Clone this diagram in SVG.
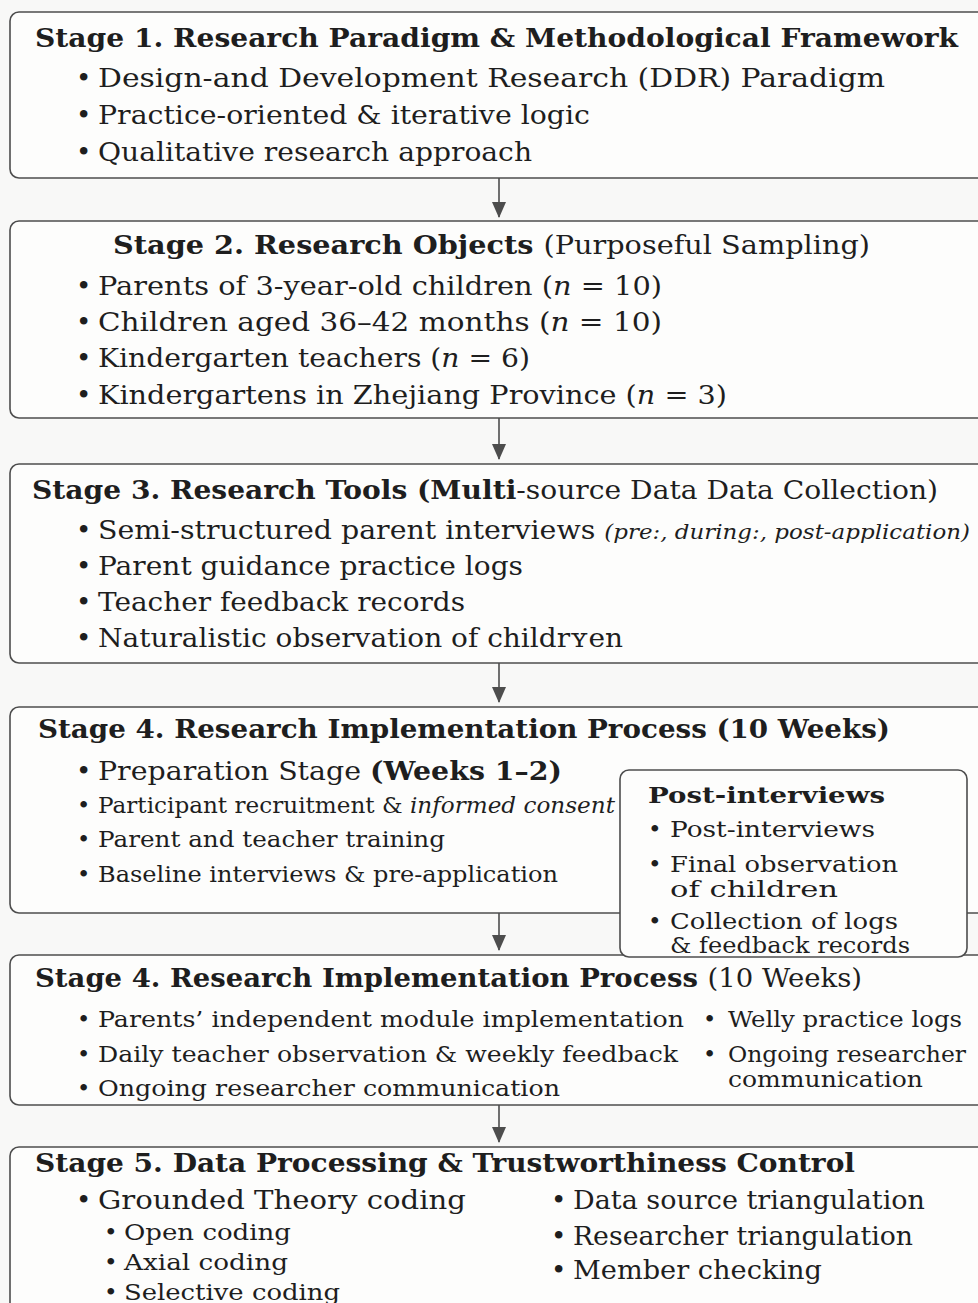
<svg xmlns="http://www.w3.org/2000/svg" width="978" height="1303" viewBox="0 0 978 1303">
<defs>
<style>
.bg{fill:#f8f8f7}
.box{fill:#fdfdfc;stroke:#4d4d4d;stroke-width:1.6}
text{font-family:"DejaVu Serif","Liberation Serif",serif;fill:#1e1e1e}
.t{font-size:26px;font-weight:bold}
.b{font-size:26px}
.s{font-size:22.5px}
.p{font-size:23px}
.r{font-weight:normal}
.i{font-style:italic}
.conn{stroke:#4d4d4d;stroke-width:1.6;fill:none}
</style>
<marker id="ah" markerWidth="16" markerHeight="14" refX="15" refY="7" orient="auto" markerUnits="userSpaceOnUse">
<path d="M0,0 L16,7 L0,14 Z" fill="#4d4d4d"/>
</marker>
</defs>
<rect class="bg" x="0" y="0" width="978" height="1303"/>

<g id="stage1">
<rect class="box" x="10" y="12" width="990" height="166" rx="9"/>
<text class="t" x="35" y="47" textLength="923" lengthAdjust="spacingAndGlyphs">Stage 1. Research Paradigm &amp; Methodological Framework</text>
<text class="b" x="76" y="87">•</text>
<text class="b" x="98" y="87" textLength="787" lengthAdjust="spacingAndGlyphs">Design-and Development Research (DDR) Paradigm</text>
<text class="b" x="76" y="124">•</text>
<text class="b" x="98" y="124" textLength="492" lengthAdjust="spacingAndGlyphs">Practice-oriented &amp; iterative logic</text>
<text class="b" x="76" y="161">•</text>
<text class="b" x="98" y="161" textLength="434" lengthAdjust="spacingAndGlyphs">Qualitative research approach</text>
</g>

<g id="stage2">
<rect class="box" x="10" y="221" width="990" height="197" rx="9"/>
<text class="t" x="113" y="254" textLength="757" lengthAdjust="spacingAndGlyphs">Stage 2. Research Objects <tspan class="r">(Purposeful Sampling)</tspan></text>
<text class="b" x="76" y="295">•</text>
<text class="b" x="98" y="295" textLength="564" lengthAdjust="spacingAndGlyphs">Parents of 3-year-old children (<tspan class="i">n</tspan> = 10)</text>
<text class="b" x="76" y="331">•</text>
<text class="b" x="98" y="331" textLength="564" lengthAdjust="spacingAndGlyphs">Children aged 36–42 months (<tspan class="i">n</tspan> = 10)</text>
<text class="b" x="76" y="367">•</text>
<text class="b" x="98" y="367" textLength="432" lengthAdjust="spacingAndGlyphs">Kindergarten teachers (<tspan class="i">n</tspan> = 6)</text>
<text class="b" x="76" y="404">•</text>
<text class="b" x="98" y="404" textLength="629" lengthAdjust="spacingAndGlyphs">Kindergartens in Zhejiang Province (<tspan class="i">n</tspan> = 3)</text>
</g>

<g id="stage3">
<rect class="box" x="10" y="464" width="990" height="199" rx="9"/>
<text class="t" x="32" y="499" textLength="906" lengthAdjust="spacingAndGlyphs">Stage 3. Research Tools (Multi<tspan class="r">-source Data Data Collection)</tspan></text>
<text class="b" x="76" y="539">•</text>
<text class="b" x="98" y="539" textLength="872" lengthAdjust="spacingAndGlyphs">Semi-structured parent interviews <tspan class="i" font-size="21">(pre:, during:, post-application)</tspan></text>
<text class="b" x="76" y="575">•</text>
<text class="b" x="98" y="575" textLength="425" lengthAdjust="spacingAndGlyphs">Parent guidance practice logs</text>
<text class="b" x="76" y="611">•</text>
<text class="b" x="98" y="611" textLength="367" lengthAdjust="spacingAndGlyphs">Teacher feedback records</text>
<text class="b" x="76" y="647">•</text>
<text class="b" x="98" y="647" textLength="525" lengthAdjust="spacingAndGlyphs">Naturalistic observation of childrʏen</text>
</g>

<g id="stage4a">
<rect class="box" x="10" y="707" width="990" height="206" rx="9"/>
<text class="t" x="38" y="738" textLength="852" lengthAdjust="spacingAndGlyphs">Stage 4. Research Implementation Process (10 Weeks)</text>
<text class="b" x="76" y="780">•</text>
<text class="b" x="98" y="780" textLength="464" lengthAdjust="spacingAndGlyphs">Preparation Stage <tspan font-weight="bold">(Weeks 1–2)</tspan></text>
<text class="s" x="77" y="813">•</text>
<text class="s" x="98" y="813" textLength="517" lengthAdjust="spacingAndGlyphs">Participant recruitment &amp; <tspan class="i">informed consent</tspan></text>
<text class="s" x="77" y="847">•</text>
<text class="s" x="98" y="847" textLength="347" lengthAdjust="spacingAndGlyphs">Parent and teacher training</text>
<text class="s" x="77" y="882">•</text>
<text class="s" x="98" y="882" textLength="460" lengthAdjust="spacingAndGlyphs">Baseline interviews &amp; pre-application</text>
</g>

<g id="stage4b">
<rect class="box" x="10" y="955" width="990" height="150" rx="9"/>
<text class="t" x="35" y="987" textLength="827" lengthAdjust="spacingAndGlyphs">Stage 4. Research Implementation Process <tspan class="r">(10 Weeks)</tspan></text>
<text class="s" x="77" y="1027">•</text>
<text class="s" x="98" y="1027" textLength="586" lengthAdjust="spacingAndGlyphs">Parents’ independent module implementation</text>
<text class="s" x="77" y="1062">•</text>
<text class="s" x="98" y="1062" textLength="580" lengthAdjust="spacingAndGlyphs">Daily teacher observation &amp; weekly feedback</text>
<text class="s" x="77" y="1096">•</text>
<text class="s" x="98" y="1096" textLength="462" lengthAdjust="spacingAndGlyphs">Ongoing researcher communication</text>
<text class="s" x="703" y="1027">•</text>
<text class="s" x="728" y="1027" textLength="234" lengthAdjust="spacingAndGlyphs">Welly practice logs</text>
<text class="s" x="703" y="1062">•</text>
<text class="s" x="728" y="1062" textLength="238" lengthAdjust="spacingAndGlyphs">Ongoing researcher</text>
<text class="s" x="728" y="1087" textLength="195" lengthAdjust="spacingAndGlyphs">communication</text>
</g>

<g id="post-interviews">
<rect class="box" x="620" y="770" width="347" height="187" rx="9"/>
<text class="p" x="648" y="803" font-weight="bold" textLength="237" lengthAdjust="spacingAndGlyphs">Post-interviews</text>
<text class="p" x="648" y="837">•</text>
<text class="p" x="670" y="837" textLength="205" lengthAdjust="spacingAndGlyphs">Post-interviews</text>
<text class="p" x="648" y="872">•</text>
<text class="p" x="670" y="872" textLength="228" lengthAdjust="spacingAndGlyphs">Final observation</text>
<text class="p" x="670" y="897" textLength="168" lengthAdjust="spacingAndGlyphs">of children</text>
<text class="p" x="648" y="929">•</text>
<text class="p" x="670" y="929" textLength="228" lengthAdjust="spacingAndGlyphs">Collection of logs</text>
<text class="p" x="670" y="953" textLength="240" lengthAdjust="spacingAndGlyphs">&amp; feedback records</text>
</g>

<g id="stage5">
<rect class="box" x="10" y="1147" width="990" height="200" rx="9"/>
<text class="t" x="35" y="1172" textLength="820" lengthAdjust="spacingAndGlyphs">Stage 5. Data Processing &amp; Trustworthiness Control</text>
<text class="b" x="76" y="1209">•</text>
<text class="b" x="98" y="1209" textLength="368" lengthAdjust="spacingAndGlyphs">Grounded Theory coding</text>
<text class="p" x="104" y="1240">•</text>
<text class="p" x="124" y="1240" textLength="167" lengthAdjust="spacingAndGlyphs">Open coding</text>
<text class="p" x="104" y="1270">•</text>
<text class="p" x="124" y="1270" textLength="164" lengthAdjust="spacingAndGlyphs">Axial coding</text>
<text class="p" x="104" y="1300">•</text>
<text class="p" x="124" y="1300" textLength="216" lengthAdjust="spacingAndGlyphs">Selective coding</text>
<text class="b" x="551" y="1209">•</text>
<text class="b" x="573" y="1209" textLength="352" lengthAdjust="spacingAndGlyphs">Data source triangulation</text>
<text class="b" x="551" y="1245">•</text>
<text class="b" x="573" y="1245" textLength="340" lengthAdjust="spacingAndGlyphs">Researcher triangulation</text>
<text class="b" x="551" y="1279">•</text>
<text class="b" x="573" y="1279" textLength="249" lengthAdjust="spacingAndGlyphs">Member checking</text>
</g>

<g id="connectors">
<line class="conn" x1="499" y1="178" x2="499" y2="217" marker-end="url(#ah)"/>
<line class="conn" x1="499" y1="418" x2="499" y2="459" marker-end="url(#ah)"/>
<line class="conn" x1="499" y1="663" x2="499" y2="702" marker-end="url(#ah)"/>
<line class="conn" x1="499" y1="913" x2="499" y2="950" marker-end="url(#ah)"/>
<line class="conn" x1="499" y1="1105" x2="499" y2="1142" marker-end="url(#ah)"/>
</g>
</svg>
